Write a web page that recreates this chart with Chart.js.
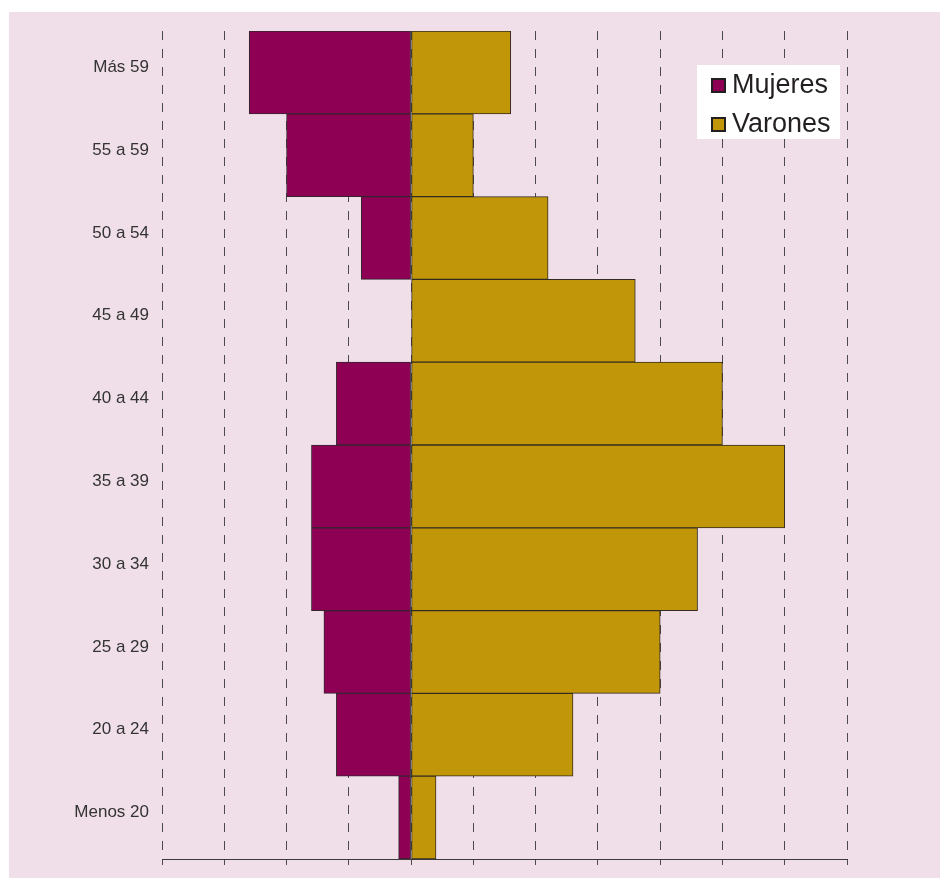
<!DOCTYPE html>
<html>
<head>
<meta charset="utf-8">
<script src="https://cdn.jsdelivr.net/npm/chart.js@4.4.1/dist/chart.umd.min.js"></script>
<style>
  body { margin: 0; background: #ffffff; }
  #wrap { width: 940px; height: 878px; }
</style>
</head>
<body>
<div id="wrap"><canvas id="mycanvas" width="940" height="878"></canvas></div>
<script>
var ageGroups = ["Más 59", "55 a 59", "50 a 54", "45 a 49", "40 a 44", "35 a 39", "30 a 34", "25 a 29", "20 a 24", "Menos 20"];
// mujeres go to the left, so they are stored negative
var mujeres = [-2.6, -2.0, -0.8, 0, -1.2, -1.6, -1.6, -1.4, -1.2, -0.2];
var varones = [1.6, 1.0, 2.2, 3.6, 5.0, 6.0, 4.6, 4.0, 2.6, 0.4];
var xMin = -4, xMax = 7;

var pinkBg = {
	id: "pinkBg",
	beforeDraw: function(chart){
		var c = chart.ctx;
		c.save();
		c.fillStyle = "#f0dfe8";
		c.fillRect(9, 12, chart.width - 9, chart.height - 12);
		c.restore();
	}
};

var boxLegend = {
	id: "boxLegend",
	afterDraw: function(chart){
		var c = chart.ctx;
		c.save();
		c.fillStyle = "#ffffff";
		c.fillRect(697, 65, 143, 74);
		chart.data.datasets.forEach(function(ds, i){
			var y = 78 + i * 39;
			c.fillStyle = ds.backgroundColor;
			c.fillRect(711, y, 15, 15);
			c.strokeStyle = "#231f20";
			c.lineWidth = 2;
			c.strokeRect(712, y + 1, 13, 13);
			c.fillStyle = "#231f20";
			c.font = "27px 'Liberation Sans', Arial, sans-serif";
			c.textBaseline = "middle";
			c.fillText(ds.label, 732, y + 8);
		});
		c.restore();
	}
};

var chartdata = {
	labels: ageGroups,
	datasets: [
		{
			label: "Mujeres",
			backgroundColor: "#8e0054",
			borderColor: "#33262e",
			borderWidth: 1,
			borderSkipped: false,
			data: mujeres
		},
		{
			label: "Varones",
			backgroundColor: "#c29609",
			borderColor: "#332c22",
			borderWidth: 1,
			borderSkipped: false,
			data: varones
		}
	]
};

var ctx = document.getElementById("mycanvas");

var pyramid = new Chart(ctx, {
	type: "bar",
	data: chartdata,
	plugins: [pinkBg, boxLegend],
	options: {
		indexAxis: "y",
		responsive: false,
		animation: false,
		barPercentage: 1,
		categoryPercentage: 1,
		layout: { padding: { top: 31, right: 93, left: 0, bottom: 0 } },
		plugins: {
			legend: { display: false },
			tooltip: { enabled: false }
		},
		scales: {
			x: {
				stacked: true,
				min: xMin,
				max: xMax,
				afterFit: function(scale){ scale.height = 19; },
				ticks: { display: false, stepSize: 1 },
				grid: {
					color: "#4a4a4a",
					lineWidth: 1,
					drawTicks: true,
					tickLength: 6,
					tickColor: "#4a4a4a",
					tickBorderDash: []
				},
				border: { display: true, color: "#3a3a3a", width: 1, dash: [9, 9] }
			},
			y: {
				stacked: true,
				afterFit: function(scale){
					scale.width = 162;
					scale.paddingTop = 0;
					scale.paddingBottom = 0;
				},
				grid: { display: false, drawTicks: false },
				border: { display: false },
				ticks: {
					color: "#333333",
					padding: 13,
					labelOffset: -5,
					font: { family: "'Liberation Sans', Arial, sans-serif", size: 17 }
				}
			}
		}
	}
});
</script>
</body>
</html>
